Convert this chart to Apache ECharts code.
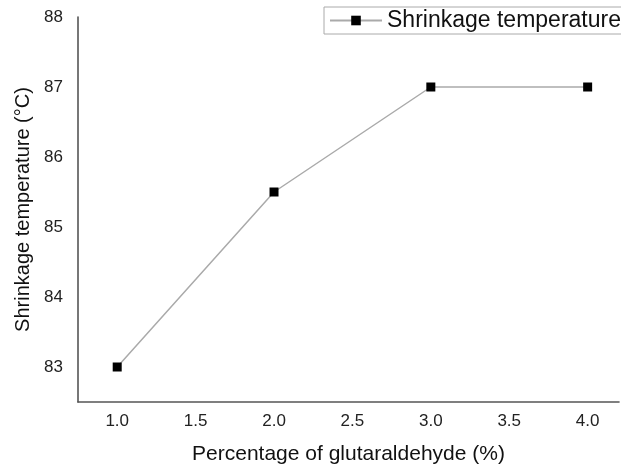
<!DOCTYPE html>
<html>
<head>
<meta charset="utf-8">
<script src="https://cdn.jsdelivr.net/npm/echarts@6/dist/echarts.min.js"></script>
<style>
html,body{margin:0;padding:0;background:#fff;}
#chart{width:621px;height:466px;}
</style>
</head>
<body>
<div id="chart"></div>
<script>
var seriesName = 'Shrinkage temperature';
var xValues = [1.0, 2.0, 3.0, 4.0];
var yValues = [83, 85.5, 87, 87];
var xTitle = 'Percentage of glutaraldehyde (%)';
var yTitle = 'Shrinkage temperature (\u00B0C)';

var data = xValues.map(function (x, i) { return [x, yValues[i]]; });
var FONT = 'Liberation Sans, Arial, sans-serif';

var chart = echarts.init(document.getElementById('chart'));
chart.setOption({
  animation: false,
  backgroundColor: '#fff',
  textStyle: { fontFamily: FONT },
  grid: { left: 78, right: 2, top: 17, bottom: 64, containLabel: false, outerBoundsMode: 'none' },
  legend: {
    data: [seriesName],
    left: 324,
    top: 7,
    padding: [2, 10, 2, 5],
    borderColor: '#aaa',
    borderWidth: 1,
    itemWidth: 52,
    itemHeight: 12,
    itemGap: 5,
    textStyle: { fontFamily: FONT, fontSize: 23, color: '#111' }
  },
  xAxis: {
    type: 'value',
    min: 0.75,
    max: 4.2,
    interval: 0.25,
    name: xTitle,
    nameLocation: 'middle',
    nameGap: 42,
    nameTextStyle: { fontFamily: FONT, fontSize: 21, color: '#111' },
    axisLine: { show: true, onZero: false, lineStyle: { color: '#555', width: 1.6 } },
    axisTick: { show: false },
    splitLine: { show: false },
    axisLabel: {
      margin: 11,
      fontFamily: FONT, fontSize: 17, color: '#222',
      formatter: function (v) {
        var r = Math.round(v * 2) / 2;
        return Math.abs(v - r) < 1e-6 ? r.toFixed(1) : '';
      }
    }
  },
  yAxis: {
    type: 'value',
    min: 82.5,
    max: 88,
    interval: 0.5,
    name: yTitle,
    nameLocation: 'middle',
    nameGap: 44,
    nameTextStyle: { fontFamily: FONT, fontSize: 20, color: '#111' },
    axisLine: { show: true, onZero: false, lineStyle: { color: '#555', width: 1.6 } },
    axisTick: { show: false },
    splitLine: { show: false },
    axisLabel: {
      margin: 15,
      fontFamily: FONT, fontSize: 17, color: '#222',
      formatter: function (v) {
        return Math.abs(v - Math.round(v)) < 1e-6 ? String(Math.round(v)) : '';
      }
    }
  },
  series: [{
    name: seriesName,
    type: 'line',
    data: data,
    symbol: 'rect',
    symbolSize: 9,
    lineStyle: { color: '#aaa', width: 1.5 },
    itemStyle: { color: '#000' }
  }]
});
</script>
</body>
</html>
